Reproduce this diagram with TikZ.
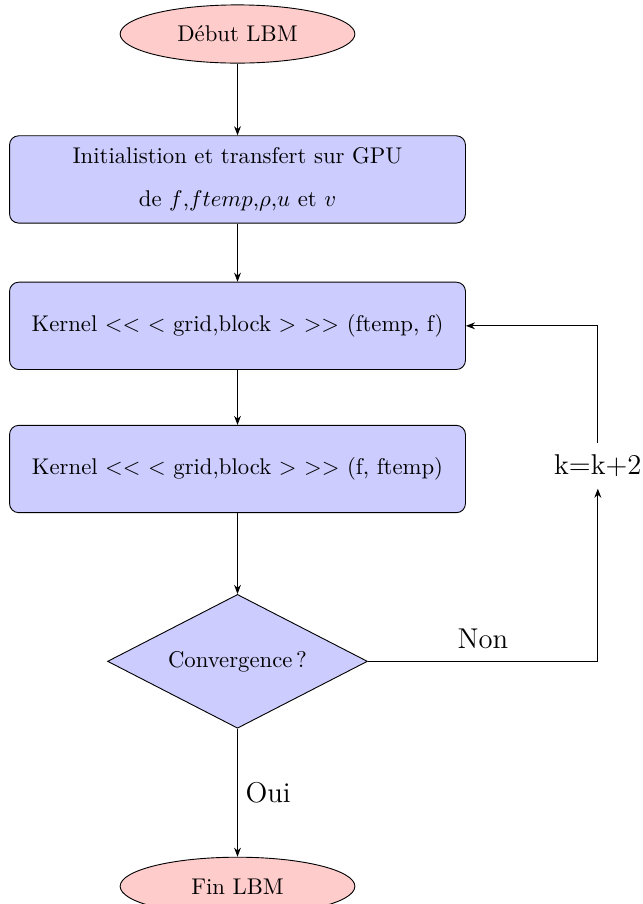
\documentclass[tikz,border=0pt]{standalone}
\usetikzlibrary{positioning,arrows.meta,shapes.geometric}

\begin{document}
\begin{tikzpicture}[node distance=0.9cm,
    startstop/.style={ellipse,draw,fill=red!20,minimum width=3.63cm,minimum height=0.9cm},
    process/.style={rectangle,draw,fill=blue!20,rounded corners,
          minimum width=7.05cm,minimum height=1.35cm,align=center},
    decision/.style={diamond,draw,fill=blue!20,aspect=2,
          minimum width=4.02cm,minimum height=2.07cm},
    arrow/.style={-{Stealth[length=4pt,width=3pt]}},
    bigtext/.style={font=\fontsize{12.6}{15}\selectfont}]
    \useasboundingbox (-3.673,0.526) rectangle (6.267,-13.454);
    \node[startstop](start){Début LBM};
    \node[process,below=1.11cm of start](init){Initialistion et transfert sur GPU\\[7pt]de $f$,$ftemp$,$\rho$,$u$ et $v$};
    \node[process,below=0.9cm of init](kern1){Kernel $<<$ $<$ grid,block $>$ $>>$ (ftemp, f)};
    \node[process,below=0.85cm of kern1](kern2){Kernel $<<$ $<$ grid,block $>$ $>>$ (f, ftemp)};
    \node[decision,below=1.25cm of kern2](conv){Convergence\,?};
    \node[startstop,below=1.98cm of conv](stop){Fin LBM};
    \node[bigtext,inner sep=5pt](kk) at ([xshift=2.04cm,yshift=0.05cm]kern2.east){k=k+2};
    \draw[arrow](start)--(init);
    \draw[arrow](init)--(kern1);
    \draw[arrow](kern1)--(kern2);
    \draw[arrow](kern2)--(conv);
    \draw[arrow](conv)--node[bigtext,right]{Oui}(stop);
    \draw[arrow](conv.east)-|node[bigtext,above=2pt,pos=0.25]{Non}(kk.south);
    \draw[arrow](kk.north)|-(kern1.east);
  \end{tikzpicture}
\end{document}
